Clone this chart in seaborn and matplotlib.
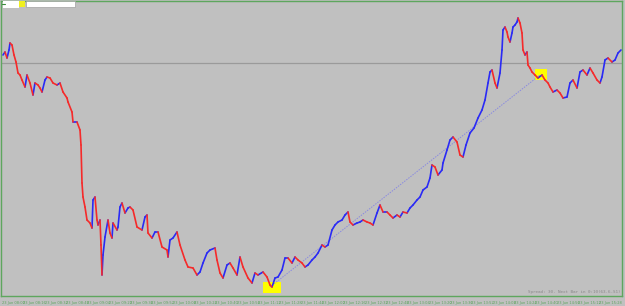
import matplotlib
matplotlib.use("Agg")
import numpy as np
import pandas as pd
import matplotlib.pyplot as plt
import seaborn as sns
from matplotlib.patches import Rectangle

# ---- data (bar position, close price in points) ----
bar_pos = [3, 5, 7, 9, 10, 12, 14, 16, 18, 20, 22, 25, 27, 30, 33, 35, 38, 40, 42, 45,
           47, 50, 53, 57, 60, 63, 67, 68, 72, 73, 77, 80, 81, 82, 83, 85, 87, 90, 92, 93,
           95, 97, 98, 100, 101, 102, 103, 105, 108, 110, 112, 113, 117, 118, 120, 122, 125, 128, 130, 133,
           137, 142, 145, 147, 148, 152, 155, 158, 162, 167, 168, 170, 173, 177, 180, 185, 188, 193, 197, 200,
           203, 207, 210, 215, 217, 220, 223, 227, 230, 233, 237, 240, 243, 248, 252, 255, 258, 263, 267, 270,
           272, 275, 278, 282, 285, 288, 292, 295, 298, 302, 305, 308, 312, 315, 318, 322, 325, 328, 332, 335,
           338, 342, 345, 348, 350, 353, 357, 360, 363, 367, 370, 373, 377, 380, 383, 387, 390, 393, 397, 400,
           403, 407, 410, 413, 417, 420, 423, 427, 430, 432, 435, 438, 442, 443, 447, 450, 453, 457, 460, 463,
           466, 470, 474, 478, 482, 485, 488, 490, 492, 495, 497, 500, 502, 503, 505, 507, 508, 510, 512, 513,
           515, 517, 518, 520, 522, 523, 525, 527, 528, 530, 532, 535, 538, 542, 545, 548, 550, 553, 557, 560,
           563, 567, 570, 573, 577, 580, 583, 587, 590, 593, 597, 600, 602, 605, 608, 612, 615, 618, 621]
close = [245, 248, 242, 250, 257, 255, 245, 238, 227, 225, 220, 213, 225, 217, 205, 217, 215, 212, 208, 220,
         223, 222, 217, 215, 217, 208, 202, 198, 188, 178, 178, 170, 155, 117, 103, 93, 80, 77, 72, 100,
         103, 80, 75, 80, 55, 25, 45, 63, 80, 67, 62, 77, 70, 73, 93, 97, 87, 92, 93, 90,
         73, 70, 83, 85, 67, 62, 68, 68, 53, 50, 43, 60, 62, 68, 55, 40, 33, 32, 25, 28,
         37, 47, 50, 52, 40, 27, 22, 35, 37, 32, 25, 43, 33, 22, 17, 27, 25, 28, 23, 15,
         13, 22, 23, 30, 42, 42, 37, 43, 40, 37, 33, 35, 40, 43, 47, 55, 53, 55, 70, 75,
         78, 80, 85, 88, 78, 75, 77, 78, 80, 78, 77, 75, 87, 95, 88, 88, 85, 82, 85, 83,
         88, 87, 92, 95, 100, 103, 110, 113, 122, 135, 133, 125, 130, 137, 150, 160, 163, 158, 145, 143,
         155, 167, 172, 182, 190, 200, 217, 228, 230, 217, 212, 227, 250, 270, 273, 268, 263, 258, 267, 273,
         275, 278, 282, 277, 267, 250, 245, 248, 235, 232, 228, 225, 222, 225, 220, 217, 213, 208, 210, 207,
         202, 203, 217, 220, 212, 228, 230, 225, 232, 227, 220, 217, 223, 240, 242, 238, 240, 247, 250]
ref_level = 237
trend_start = (270, 13)
trend_end = (540, 225)
tick_labels = ["23 Jun 08:00", "23 Jun 08:16", "23 Jun 08:32", "23 Jun 08:48", "23 Jun 09:04",
               "23 Jun 09:20", "23 Jun 09:36", "23 Jun 09:52", "23 Jun 10:08", "23 Jun 10:24",
               "23 Jun 10:40", "23 Jun 10:56", "23 Jun 11:12", "23 Jun 11:28", "23 Jun 11:44",
               "23 Jun 12:00", "23 Jun 12:16", "23 Jun 12:32", "23 Jun 12:48", "23 Jun 13:04",
               "23 Jun 13:20", "23 Jun 13:36", "23 Jun 13:52", "23 Jun 14:08", "23 Jun 14:24",
               "23 Jun 14:40", "23 Jun 14:56", "23 Jun 15:12", "23 Jun 15:28"]
status_text = "Spread: 30. Next Bar in 0:10(63.6-S1)"

# ---- build segment table (colored by direction) ----
rows = []
for i in range(len(close) - 1):
    d = "up" if close[i + 1] >= close[i] else "down"
    rows.append((bar_pos[i], close[i], i, d))
    rows.append((bar_pos[i + 1], close[i + 1], i, d))
seg = pd.DataFrame(rows, columns=["t", "price", "seg", "dir"])

BG = "#c0c0c0"
GREEN = "#5ea65e"
W, H = 625, 306

sns.set_style("white", rc={"axes.facecolor": BG, "figure.facecolor": BG})
fig = plt.figure(figsize=(W / 100, H / 100), dpi=100)
fig.patch.set_facecolor(BG)

def fx(px):
    return px / W

def fy(py):
    return 1 - py / H

ax = fig.add_axes([fx(1), fy(296), fx(622) - fx(1), fy(1) - fy(296)])
ax.set_facecolor(BG)

# reference horizontal level
ax.axhline(ref_level, color="#9a9a9a", lw=0.9, zorder=1)
# trend line
ax.plot([trend_start[0], trend_end[0]], [trend_start[1], trend_end[1]],
        color="#8a8ae0", lw=0.7, ls=(0, (1.5, 1.2)), zorder=2)
# highlighted boxes
ax.add_patch(Rectangle((263, 7), 18, 11, color="#ffff00", zorder=1.5, lw=0))
ax.add_patch(Rectangle((535, 220), 12, 11, color="#ffff00", zorder=1.5, lw=0))

sns.lineplot(data=seg, x="t", y="price", units="seg", estimator=None, hue="dir",
             palette={"up": "#2a2af5", "down": "#f52a2a"}, lw=1.2, legend=False,
             ax=ax, zorder=3, sort=False)

ax.set_xlim(1, 622)
ax.set_ylim(4, 299)
ax.set_xlabel("")
ax.set_ylabel("")
ax.set_yticks([])
tick_pos = [2 + 21.33 * k for k in range(len(tick_labels))]
ax.set_xticks(tick_pos)
ax.set_xticklabels(tick_labels, fontsize=2.6, color=GREEN, ha="left")
ax.tick_params(axis="x", length=2.5, width=0.6, color=GREEN, pad=1)
for s in ["left", "top", "right", "bottom"]:
    ax.spines[s].set_visible(True)
    ax.spines[s].set_color(GREEN)
    ax.spines[s].set_linewidth(1.0)

# status text
ax.text(620, 6, status_text, ha="right", va="bottom", fontsize=3.1,
        color="#8a8a8a", family="DejaVu Sans Mono")

# top-left widgets
fig.add_artist(Rectangle((fx(3), fy(8)), fx(16), 7 / H, color="white", lw=0))
fig.add_artist(Rectangle((fx(19), fy(7)), fx(6), 6 / H, color="#f0f020", lw=0))
fig.add_artist(Rectangle((fx(26), fy(7)), fx(49), 6 / H, facecolor="white",
                         edgecolor="#a0a0a0", lw=0.5))
fig.add_artist(plt.Line2D([fx(2), fx(5)], [fy(3.5), fy(3.5)], color="#3a8a3a", lw=0.8))

fig.savefig("out.png", dpi=100, facecolor=BG)
